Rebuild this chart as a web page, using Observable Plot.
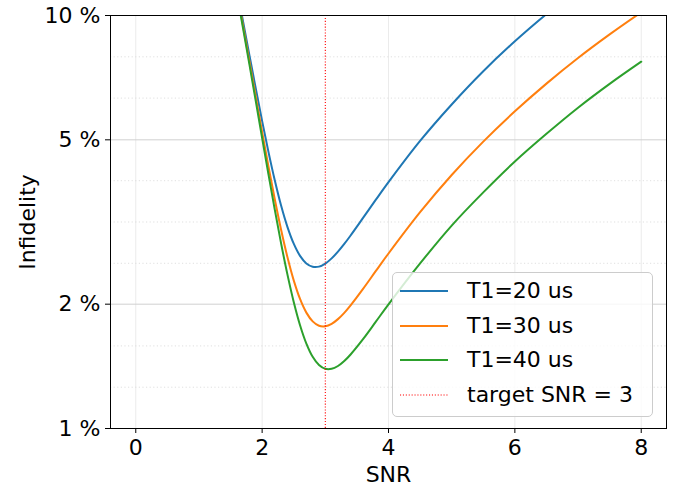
<!DOCTYPE html>
<html>
<head>
<meta charset="utf-8">
<script src="https://cdn.jsdelivr.net/npm/d3@7"></script>
<script src="https://cdn.jsdelivr.net/npm/@observablehq/plot@0.6"></script>
<style>
  html, body { margin: 0; padding: 0; background: #fff; }
  #wrap { position: relative; width: 679px; height: 488px; font-family: "DejaVu Sans", sans-serif; }
  #legend {
    position: absolute; left: 392px; top: 272px; width: 261px; height: 145px;
    box-sizing: border-box; border: 1px solid #cccccc; border-radius: 5px;
    background: rgba(255,255,255,0.8); padding: 1px 0 0 7px;
    font-size: 22px; color: #000;
  }
  .row { height: 34.5px; display: flex; align-items: center; }
  .row svg { width: 48px; height: 10px; margin-right: 19px; flex: none; }
  .row span { white-space: nowrap; line-height: 1; }
</style>
</head>
<body>
<div id="wrap"><div id="legend"></div></div>
<script>
// SNR sample positions
const snr = [1.6, 1.7, 1.8, 1.9, 2.0, 2.1, 2.2, 2.3, 2.4, 2.5, 2.6, 2.7, 2.8, 2.9, 3.0,
             3.1, 3.2, 3.3, 3.4, 3.6, 3.8, 4.0, 4.5, 5.0, 5.5, 6.0, 6.5, 7.0, 7.5, 8.0];
// Infidelity in %
const t1_20 = [11.602, 9.637, 7.998, 6.647, 5.551, 4.676, 3.991, 3.466, 3.078, 2.802, 2.618, 2.510, 2.464, 2.466, 2.508,
               2.582, 2.680, 2.798, 2.933, 3.239, 3.581, 3.950, 4.97, 6.09, 7.33, 8.66, 10.08, 11.60, null, null];
const t1_30 = [11.388, 9.396, 7.728, 6.347, 5.219, 4.310, 3.589, 3.028, 2.601, 2.284, 2.059, 1.908, 1.817, 1.773, 1.768,
               1.792, 1.840, 1.906, 1.987, 2.181, 2.407, 2.653, 3.34, 4.11, 4.95, 5.86, 6.84, 7.89, 9.00, 10.18];
const t1_40 = [11.281, 9.276, 7.593, 6.196, 5.052, 4.126, 3.387, 2.808, 2.361, 2.025, 1.779, 1.606, 1.492, 1.425, 1.395,
               1.395, 1.417, 1.457, 1.511, 1.648, 1.814, 1.998, 2.51, 3.10, 3.73, 4.43, 5.17, 5.98, 6.83, 7.73];
const seriesNames = ["T1=20 us", "T1=30 us", "T1=40 us"];
const seriesColors = ["#1f77b4", "#ff7f0e", "#2ca02c"];
const targetSNR = 3;
const targetLabel = "target SNR = 3";
const xTicks = [0, 2, 4, 6, 8];
const yMajor = [1, 2, 5, 10];
const yMinor = [1.2589, 1.5849, 2.5119, 3.1623, 3.9811, 6.3096, 7.9433];

const allSeries = [t1_20, t1_30, t1_40];
const rows = allSeries.flatMap((vals, i) =>
  snr.map((s, j) => ({snr: s, inf: vals[j], series: seriesNames[i]})));

const chart = Plot.plot({
  width: 679, height: 488,
  marginLeft: 110, marginRight: 13, marginTop: 15, marginBottom: 60,
  style: {fontFamily: "DejaVu Sans", fontSize: "22px", color: "#000", background: "transparent"},
  x: {domain: [-0.4, 8.4]},
  y: {type: "log", domain: [1, 10]},
  color: {domain: seriesNames, range: seriesColors},
  marks: [
    Plot.ruleX(xTicks, {stroke: "#ebebeb", strokeWidth: 1}),
    Plot.ruleY(yMinor, {stroke: "#d8d8d8", strokeWidth: 0.8, strokeDasharray: "1.2,2.4"}),
    Plot.ruleY(yMajor.filter(d => d > 1 && d < 10), {stroke: "#d0d0d0", strokeWidth: 1}),
    Plot.line(rows, {x: "snr", y: "inf", z: "series", stroke: "series", strokeWidth: 2,
                     curve: "catmull-rom", clip: true}),
    Plot.ruleX([targetSNR], {stroke: "#ff0000", strokeWidth: 1.1, strokeDasharray: "1.1,1.8"}),
    Plot.frame({stroke: "#000", strokeWidth: 1}),
    Plot.axisX(xTicks, {tickSize: 5, tickPadding: 6, fontSize: 22, label: null}),
    Plot.axisY(yMajor, {tickSize: 5, tickPadding: 5, fontSize: 22, label: null,
                        tickFormat: d => d + " %"}),
    Plot.text(["SNR"], {frameAnchor: "bottom", dy: 46, lineAnchor: "middle", textAnchor: "middle", fontSize: 22}),
    Plot.text(["Infidelity"], {frameAnchor: "left", dx: -83, rotate: -90, lineAnchor: "middle",
                               textAnchor: "middle", fontSize: 22})
  ]
});
const wrap = document.getElementById("wrap");
wrap.insertBefore(chart, wrap.firstChild);

const legend = document.getElementById("legend");
const entries = seriesNames.map((n, i) => ({label: n, color: seriesColors[i], dash: null, w: 2}))
  .concat([{label: targetLabel, color: "#ff0000", dash: "1.1,1.8", w: 1.1}]);
for (const e of entries) {
  const row = document.createElement("div");
  row.className = "row";
  row.innerHTML = `<svg viewBox="0 0 48 10"><line x1="0" x2="48" y1="5" y2="5" stroke="${e.color}" stroke-width="${e.w}" ${e.dash ? `stroke-dasharray="${e.dash}"` : ""}/></svg><span>${e.label}</span>`;
  legend.appendChild(row);
}
</script>
</body>
</html>
